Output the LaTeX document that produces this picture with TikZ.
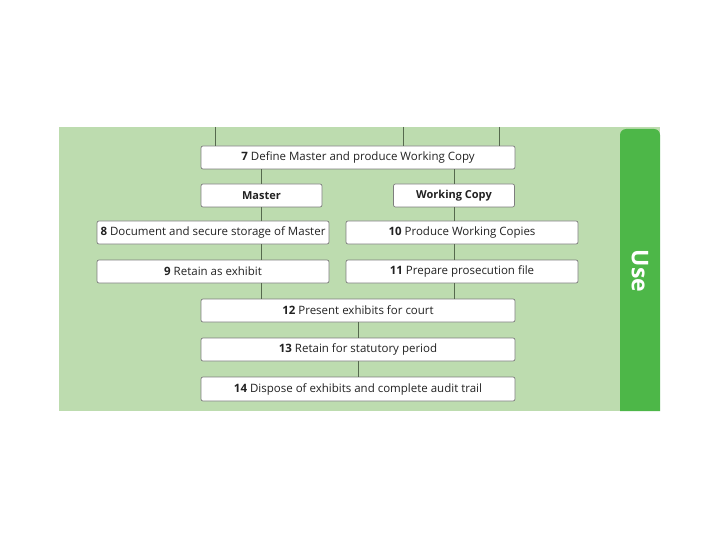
\documentclass[tikz,border=0pt]{standalone}
\usepackage{fontspec}
\setmainfont{Open Sans}
\definecolor{lightbg}{HTML}{BDDCAF}
\definecolor{darkbar}{HTML}{4DB748}
\definecolor{conn}{HTML}{56694E}
\definecolor{boxline}{HTML}{7E7E7E}
\definecolor{txt}{HTML}{222222}
\tikzset{
  stepbox/.style={draw=boxline, line width=0.7pt, fill=white, rounded corners=2pt,
    minimum height=23pt, inner sep=0pt, font=\fontsize{11.5}{13}\selectfont, text=txt},
  wide/.style={stepbox, minimum width=314pt},
  mid/.style={stepbox, minimum width=232pt},
  small/.style={stepbox, minimum width=121pt, font=\fontsize{11}{13}\selectfont\bfseries},
  link/.style={draw=conn, line width=0.9pt}
}
\begin{document}
\begin{tikzpicture}[x=1pt,y=-1pt]
\useasboundingbox (0,0) rectangle (720,540);
\fill[white] (0,0) rectangle (720,540);
\fill[lightbg] (59,127) rectangle (660,411);
\fill[darkbar, rounded corners=6pt] (620,411) -- (620,129) -- (660,129) [sharp corners] -- (660,411) -- cycle;
\node[rotate=-90, text=white, font=\fontsize{23}{26}\selectfont\bfseries] (use) at (640,271) {Use};

\node[wide] (n7) at (358,157.5) {\textbf{7} Define Master and produce Working Copy};
\node[small] (mas) at (261.5,195.5) {Master};
\node[small] (wc) at (454,195.5) {Working Copy};
\node[mid] (n8) at (213,232.5) {\textbf{8} Document and secure storage of Master};
\node[mid] (n10) at (462,232.5) {\textbf{10} Produce Working Copies};
\node[mid] (n9) at (213,271.5) {\textbf{9} Retain as exhibit};
\node[mid] (n11) at (462,271.5) {\textbf{11} Prepare prosecution file};
\node[wide] (n12) at (358,310.5) {\textbf{12} Present exhibits for court};
\node[wide] (n13) at (358,349.5) {\textbf{13} Retain for statutory period};
\node[wide, minimum height=24pt] (n14) at (358,389) {\textbf{14} Dispose of exhibits and complete audit trail};

\coordinate (t1) at (215,127);
\coordinate (t2) at (403,127);
\coordinate (t3) at (499,127);
\draw[link] (t1) -- (t1 |- n7.north);
\draw[link] (t2) -- (t2 |- n7.north);
\draw[link] (t3) -- (t3 |- n7.north);

\draw[link] (mas.north |- n7.south) -- (mas.north);
\draw[link] (wc.north |- n7.south) -- (wc.north);
\draw[link] (mas.south) -- (mas.south |- n8.north);
\draw[link] (mas.south |- n8.south) -- (mas.south |- n9.north);
\draw[link] (mas.south |- n9.south) -- (mas.south |- n12.north);
\draw[link] (wc.south) -- (wc.south |- n10.north);
\draw[link] (wc.south |- n10.south) -- (wc.south |- n11.north);
\draw[link] (wc.south |- n11.south) -- (wc.south |- n12.north);
\draw[link] (n12.south) -- (n13.north);
\draw[link] (n13.south) -- (n14.north);
\end{tikzpicture}
\end{document}
